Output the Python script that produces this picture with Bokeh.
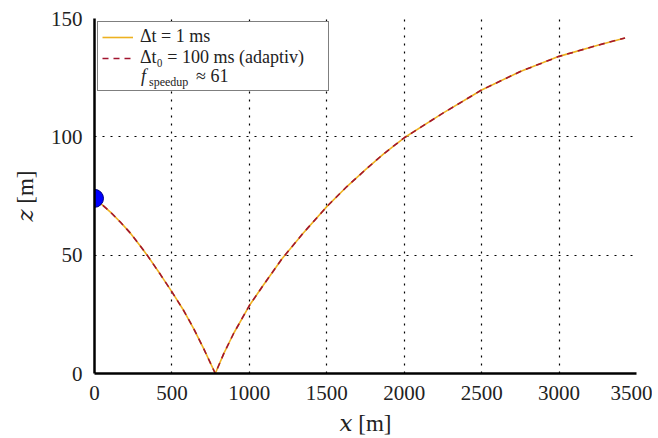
from bokeh.plotting import figure
from bokeh.models import FixedTicker, Legend, LegendItem, ColumnDataSource
from bokeh.embed import file_html
from bokeh.resources import INLINE

# Trajectory
x_vals = [0, 39, 103, 168, 232, 297, 340, 426, 501, 576, 641, 705, 780, 834, 899, 1000,
          1092, 1211, 1350, 1500, 1630, 1748, 1867, 2000, 2250, 2500, 2750, 3000, 3250, 3426]
z_vals = [74, 71.9, 68.2, 63.9, 59.3, 53.8, 50, 41.8, 34.4, 26.6, 18.9, 10.5, 0, 8.3, 17.0, 28.7,
          37.5, 48.5, 59.5, 70.5, 79, 86, 92.8, 99.6, 110, 119.8, 127.6, 134, 138.7, 141.8]
x_ticks = [0, 500, 1000, 1500, 2000, 2500, 3000, 3500]
z_ticks = [0, 50, 100, 150]
labels = ["Δt = 1 ms", "Δt₀ = 100 ms (adaptiv)"]
speedup = 61

FONT = "Liberation Serif"
TXT = "#222222"

p = figure(frame_width=542, frame_height=355, output_backend="svg", toolbar_location=None,
           x_range=(0, 3500), y_range=(0, 150),
           min_border_left=94, min_border_right=16, min_border_top=18, min_border_bottom=60)
p.outline_line_color = None

src = ColumnDataSource(dict(x=x_vals, z=z_vals))
r1 = p.line("x", "z", source=src, line_color="#EDB120", line_width=1.6)
r2 = p.line("x", "z", source=src, line_color="#A2142F", line_width=1.6, line_dash="6 5")
r3 = p.line("x", "z", source=src, line_alpha=0)
p.scatter(x=[x_vals[0]], y=[z_vals[0]], size=18, fill_color="#0000FF", line_color="#000080", line_width=1)

for ax in (p.xaxis, p.yaxis):
    ax.axis_line_width = 2.5
    ax.axis_line_color = "black"
    ax.major_tick_line_color = None
    ax.minor_tick_line_color = None
    ax.major_label_text_font = FONT
    ax.major_label_text_font_size = "21px"
    ax.major_label_text_color = TXT
    ax.axis_label_text_font = "Liberation Serif, DejaVu Serif"
    ax.axis_label_text_font_size = "23px"
    ax.axis_label_text_font_style = "normal"
    ax.axis_label_text_color = TXT

p.xaxis.ticker = FixedTicker(ticks=x_ticks)
p.yaxis.ticker = FixedTicker(ticks=z_ticks)
p.xaxis.major_label_standoff = 6
p.yaxis.major_label_standoff = 6
p.xaxis.axis_label = "𝑥 [m]"
p.yaxis.axis_label = "𝑧 [m]"
p.xaxis.axis_label_standoff = 8
p.yaxis.axis_label_standoff = 10

for g in (p.xgrid, p.ygrid):
    g.grid_line_color = "black"
    g.grid_line_dash = "2 6"
    g.grid_line_width = 1.2

# legend frame (white box with border), sized by an invisible glyph
box = Legend(items=[LegendItem(label="\u00a0", renderers=[r3])], location="top_left",
             margin=3, padding=0, spacing=0, glyph_width=210, glyph_height=68,
             label_height=68, label_standoff=0, label_text_font=FONT, label_text_font_size="18px",
             border_line_color="black", border_line_width=1, background_fill_alpha=1)
p.add_layout(box)

legend = Legend(items=[LegendItem(label=labels[0], renderers=[r1]),
                       LegendItem(label=labels[1], renderers=[r2])],
                location="top_left", margin=3, padding=5, spacing=0,
                glyph_width=31, glyph_height=20, label_height=20, label_standoff=7,
                label_text_font=FONT, label_text_font_size="18px", label_text_color=TXT,
                border_line_alpha=0, background_fill_alpha=0)
p.add_layout(legend)


def text_legend(text, x, y, size, style="normal"):
    # a glyph-less, frameless legend used as a text piece
    return Legend(items=[LegendItem(label=text, renderers=[r3])], location=(x, y),
                  margin=0, padding=0, spacing=0, glyph_width=0, glyph_height=20,
                  label_height=20, label_standoff=0, label_text_font=FONT,
                  label_text_font_size=size, label_text_font_style=style, label_text_color=TXT,
                  border_line_alpha=0, background_fill_alpha=0)


# third legend row: f_speedup ≈ 61
p.add_layout(text_legend("f", 47, 286, "18px", "italic"))
p.add_layout(text_legend("speedup", 55, 281, "12px"))
p.add_layout(text_legend(f"≈ {speedup}", 102, 286, "18px"))

open("out.html", "w").write(file_html(p, INLINE))
